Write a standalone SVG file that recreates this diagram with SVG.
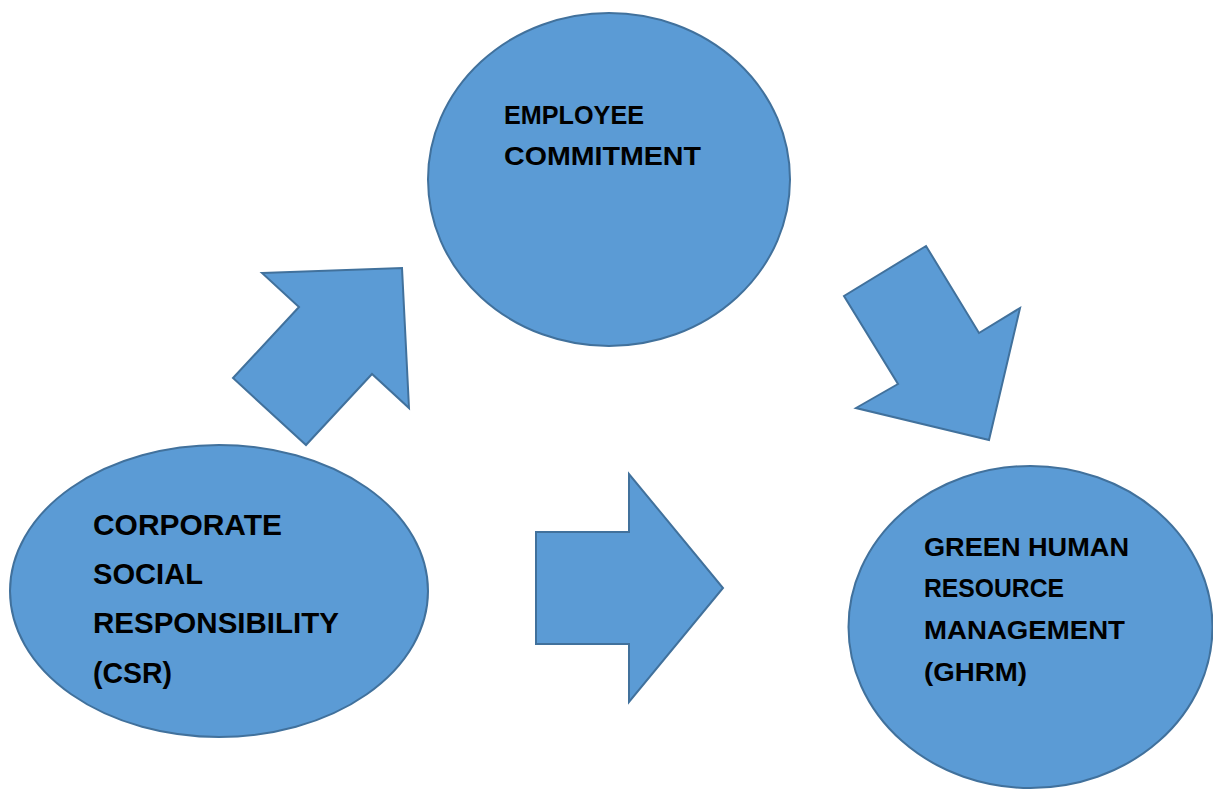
<svg xmlns="http://www.w3.org/2000/svg" width="1213" height="789" viewBox="0 0 1213 789">
  <style>
    .shape { fill: #5B9BD5; stroke: #41719C; stroke-width: 2; stroke-linejoin: miter; }
    .label { font-family: "Liberation Sans", Arial, sans-serif; font-weight: bold; fill: #000000; }
    .big { font-size: 30px; }
    .mid { font-size: 26.5px; }
  </style>
  <rect width="1213" height="789" fill="#FFFFFF"/>

  <!-- block arrows between the concepts -->
  <g id="connectors">
    <polygon id="arrow-csr-to-commitment" class="shape" points="262,273 402,268 409,408 372,374 306,445 233,378 299,307"/>
    <polygon id="arrow-commitment-to-ghrm" class="shape" points="926,246 979,333 1020,308 989,440 856,408 898,384 844,296"/>
    <polygon id="arrow-csr-to-ghrm" class="shape" points="536,532 629,532 629,474 723,588 629,702 629,644 536,644"/>
  </g>

  <g id="node-commitment">
    <ellipse class="shape" cx="609" cy="179.5" rx="181" ry="166.5"/>
    <text class="label mid" x="504" y="124" textLength="140" lengthAdjust="spacingAndGlyphs">EMPLOYEE</text>
    <text class="label mid" x="504" y="165" textLength="197" lengthAdjust="spacingAndGlyphs">COMMITMENT</text>
  </g>

  <g id="node-csr">
    <ellipse class="shape" cx="219" cy="591" rx="209" ry="146"/>
    <text class="label big" x="93" y="535" textLength="189" lengthAdjust="spacingAndGlyphs">CORPORATE</text>
    <text class="label big" x="93" y="584" textLength="110" lengthAdjust="spacingAndGlyphs">SOCIAL</text>
    <text class="label big" x="93" y="633" textLength="246" lengthAdjust="spacingAndGlyphs">RESPONSIBILITY</text>
    <text class="label big" x="93" y="683" textLength="79" lengthAdjust="spacingAndGlyphs">(CSR)</text>
  </g>

  <g id="node-ghrm">
    <ellipse class="shape" cx="1030.5" cy="627" rx="182" ry="161"/>
    <text class="label mid" x="924" y="556" textLength="205" lengthAdjust="spacingAndGlyphs">GREEN HUMAN</text>
    <text class="label mid" x="924" y="597" textLength="140" lengthAdjust="spacingAndGlyphs">RESOURCE</text>
    <text class="label mid" x="924" y="639" textLength="201" lengthAdjust="spacingAndGlyphs">MANAGEMENT</text>
    <text class="label mid" x="924" y="681" textLength="103" lengthAdjust="spacingAndGlyphs">(GHRM)</text>
  </g>
</svg>
